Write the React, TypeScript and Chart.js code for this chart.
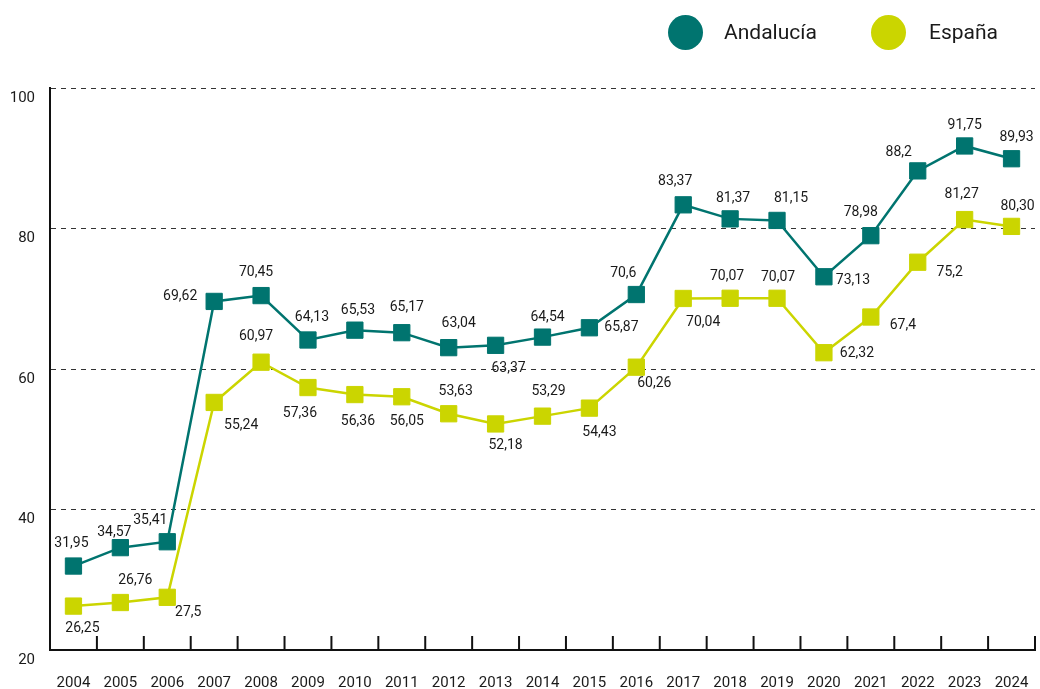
import React, { useEffect, useRef } from "react";
import { Chart, registerables } from "chart.js";

Chart.register(...registerables);

const years = ["2004","2005","2006","2007","2008","2009","2010","2011","2012","2013","2014","2015","2016","2017","2018","2019","2020","2021","2022","2023","2024"];

const andalucia = [31.95, 34.57, 35.41, 69.62, 70.45, 64.13, 65.53, 65.17, 63.04, 63.37, 64.54, 65.87, 70.6, 83.37, 81.37, 81.15, 73.13, 78.98, 88.2, 91.75, 89.93];
const espana = [26.25, 26.76, 27.5, 55.24, 60.97, 57.36, 56.36, 56.05, 53.63, 52.18, 53.29, 54.43, 60.26, 70.04, 70.07, 70.07, 62.32, 67.4, 75.2, 81.27, 80.3];

const andaluciaLabels = ["31,95","34,57","35,41","69,62","70,45","64,13","65,53","65,17","63,04","63,37","64,54","65,87","70,6","83,37","81,37","81,15","73,13","78,98","88,2","91,75","89,93"];
const espanaLabels = ["26,25","26,76","27,5","55,24","60,97","57,36","56,36","56,05","53,63","52,18","53,29","54,43","60,26","70,04","70,07","70,07","62,32","67,4","75,2","81,27","80,30"];

const yTicks = [20, 40, 60, 80, 100];

// label placement offsets (px) relative to each point
const andaluciaLabelOffsets = [[-2,-23],[-6,-15],[-17,-21],[-34,-5],[-5,-23],[4,-22],[3,-20],[5,-25],[10,-24],[13,23],[5,-20],[32,0],[-13,-21],[-8,-23],[3,-20],[14,-22],[29,4],[-10,-23],[-19,-18],[0,-20],[5,-21]];
const espanaLabelOffsets = [[9,22],[15,-22],[21,15],[27,23],[-5,-26],[-8,26],[3,27],[5,25],[7,-22],[10,22],[6,-25],[10,24],[18,16],[20,24],[-3,-22],[1,-21],[33,1],[32,8],[32,10],[-3,-25],[6,-20]];

const TEAL = "#00746F";
const LIME = "#CBD500";
const FONT = "Roboto, 'Open Sans', sans-serif";

const labelPlugin = {
  id: "pointLabels",
  afterDatasetsDraw(chart: any) {
    const ctx = chart.ctx;
    ctx.save();
    ctx.font = `14px ${FONT}`;
    ctx.fillStyle = "#1a1a1a";
    ctx.textAlign = "center";
    ctx.textBaseline = "middle";
    chart.data.datasets.forEach((ds: any, di: number) => {
      const meta = chart.getDatasetMeta(di);
      meta.data.forEach((pt: any, i: number) => {
        const off = ds.labelOffsets[i];
        ctx.fillText(ds.labelTexts[i], pt.x + off[0], pt.y + off[1]);
      });
    });
    ctx.restore();
  },
};

const tickMarkPlugin = {
  id: "innerTicks",
  afterDraw(chart: any) {
    const xs = chart.scales.x;
    const ctx = chart.ctx;
    const bottom = chart.chartArea.bottom;
    ctx.save();
    ctx.strokeStyle = "#111";
    ctx.lineWidth = 2;
    for (let i = 0; i < years.length; i++) {
      const x = xs.getPixelForValue(i + 0.5);
      ctx.beginPath();
      ctx.moveTo(x, bottom);
      ctx.lineTo(x, bottom - 14);
      ctx.stroke();
    }
    ctx.restore();
  },
};

export default function App() {
  const ref = useRef<HTMLCanvasElement | null>(null);

  useEffect(() => {
    if (!ref.current) return;
    const chart = new Chart(ref.current, {
      type: "line",
      data: {
        labels: years,
        datasets: [
          {
            label: "Andalucía",
            data: andalucia,
            borderColor: TEAL,
            backgroundColor: TEAL,
            borderWidth: 2.5,
            pointStyle: "rect",
            pointRadius: 11.5,
            pointBorderWidth: 1,
            pointBorderColor: TEAL,
            pointBackgroundColor: TEAL,
            tension: 0,
            clip: false,
            labelTexts: andaluciaLabels,
            labelOffsets: andaluciaLabelOffsets,
          } as any,
          {
            label: "España",
            data: espana,
            borderColor: LIME,
            backgroundColor: LIME,
            borderWidth: 2.5,
            pointStyle: "rect",
            pointRadius: 11.5,
            pointBorderWidth: 1,
            pointBorderColor: LIME,
            pointBackgroundColor: LIME,
            tension: 0,
            clip: false,
            labelTexts: espanaLabels,
            labelOffsets: espanaLabelOffsets,
          } as any,
        ],
      },
      options: {
        animation: false,
        responsive: false,
        maintainAspectRatio: false,
        layout: { autoPadding: false, padding: { top: 88, right: 5, left: 0, bottom: 0 } },
        plugins: {
          legend: { display: false },
          tooltip: { enabled: false },
        },
        scales: {
          x: {
            offset: true,
            grid: { display: false, drawTicks: false },
            border: { display: true, color: "#111", width: 2 },
            ticks: {
              padding: 24,
              color: "#1a1a1a",
              font: { family: FONT, size: 15 },
              maxRotation: 0,
              autoSkip: false,
            },
            afterFit: (s: any) => {
              s.height = 39;
              s.paddingLeft = 0;
              s.paddingRight = 0;
              s.paddingTop = 0;
              s.paddingBottom = 0;
            },
          },
          y: {
            min: 20,
            max: 100,
            afterBuildTicks: (s: any) => {
              s.ticks = yTicks.map((v) => ({ value: v }));
            },
            grid: {
              drawTicks: false,
              color: (c: any) => (c.tick && c.tick.value === 20 ? "transparent" : "#333"),
              lineWidth: 1,
            },
            border: { display: true, color: "#111", width: 2, dash: [5, 5] },
            ticks: {
              padding: 15,
              labelOffset: 10,
              color: "#1a1a1a",
              font: { family: FONT, size: 15 },
            },
            afterFit: (s: any) => {
              s.width = 50;
              s.paddingLeft = 0;
              s.paddingRight = 0;
              s.paddingTop = 0;
              s.paddingBottom = 0;
            },
          },
        },
      },
      plugins: [labelPlugin, tickMarkPlugin],
    });
    return () => chart.destroy();
  }, []);

  const legendText: React.CSSProperties = {
    position: "absolute",
    top: 32,
    transform: "translateY(-50%)",
    fontFamily: FONT,
    fontSize: 21,
    color: "#1a1a1a",
    lineHeight: 1,
    whiteSpace: "nowrap",
  };
  const dot = (cx: number, color: string): React.CSSProperties => ({
    position: "absolute",
    left: cx - 17.5,
    top: 32 - 17.5,
    width: 35,
    height: 35,
    borderRadius: "50%",
    background: color,
  });

  return (
    <div style={{ position: "fixed", left: 0, top: 0, width: 1040, height: 689, overflow: "hidden", background: "#fff" }}>
      <canvas ref={ref} width={1040} height={689} style={{ display: "block", width: 1040, height: 689 }} />
      <div style={dot(685, TEAL)} />
      <div style={{ ...legendText, left: 724 }}>Andalucía</div>
      <div style={dot(888, LIME)} />
      <div style={{ ...legendText, left: 929 }}>España</div>
    </div>
  );
}
